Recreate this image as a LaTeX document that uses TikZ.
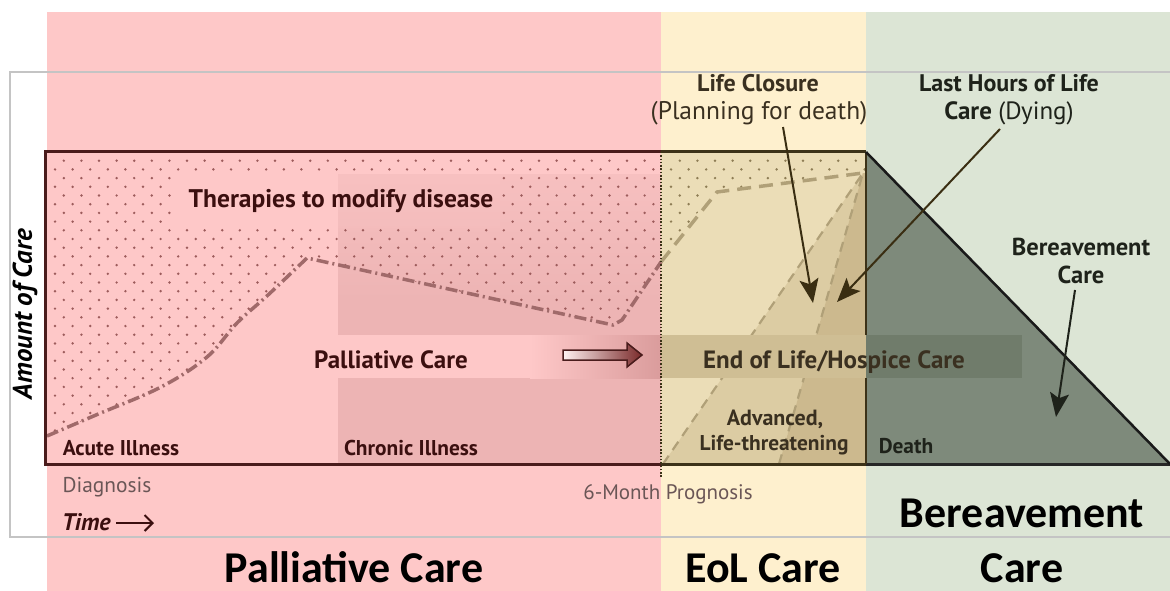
\documentclass[tikz,border=0pt]{standalone}
\usepackage{fontspec}
\setmainfont{PT Sans}
\newfontfamily\calib{Carlito}
\usetikzlibrary{arrows.meta}
\definecolor{pinkbg}{HTML}{FEC8C8}
\definecolor{pinkdark}{HTML}{EDB4B4}
\definecolor{pinkmid}{HTML}{F7C0C0}
\definecolor{pinkband}{HTML}{DA9C9C}
\definecolor{yellowbg}{HTML}{FEF0CE}
\definecolor{greenbg}{HTML}{DCE5D5}
\definecolor{framecol}{HTML}{C4C4C4}
\definecolor{eolA}{HTML}{EBDDB7}
\definecolor{eolB}{HTML}{DCCCA3}
\definecolor{eolC}{HTML}{CCB98E}
\definecolor{eolband}{HTML}{CFBE94}
\definecolor{triband}{HTML}{707C6B}
\definecolor{tri}{HTML}{7E8A7B}
\definecolor{maroon}{HTML}{4A1C1C}
\definecolor{brownline}{HTML}{3C3218}
\definecolor{pinkdot}{HTML}{9D5C5C}
\definecolor{eoldot}{HTML}{8E7D55}
\definecolor{pinkdash}{HTML}{A06A6A}
\definecolor{eoldash}{HTML}{B0A078}
\definecolor{txtmaroon}{HTML}{3B0F0F}
\definecolor{txtbrown}{HTML}{3A3020}
\definecolor{txtgray}{HTML}{6A5656}
\definecolor{txtdark}{HTML}{1E221A}
\definecolor{arrowbrown}{HTML}{3A2E12}
\definecolor{arrowfill}{HTML}{7A2A2A}
\newcommand\dotfield[4]{%
  \foreach \j in {0,...,#4}{%
    \foreach \i in {#2,...,#3}{%
      \fill[#1] ({55+17.6*\i+8.8*mod(\j+1,2)},{160.7+8.7*\j}) circle (1.35);
    }}}
\newcommand\fs[1]{\fontsize{#1}{#1}\selectfont}
\begin{document}
\begin{tikzpicture}[x=1pt,y=-1pt,
  lbl/.style={inner sep=0pt, anchor=base, font=\bfseries\fs{21.4}},
  big lbl/.style={inner sep=0pt, anchor=base, font=\bfseries\fs{25}},
  thin lbl/.style={inner sep=0pt, anchor=base, font=\fs{21.4}},
  big/.style={inner sep=0pt, anchor=base, text depth=0pt, font=\calib\bfseries\fs{44}, text=black},
  note arrow/.style={line width=2pt, -{Stealth[length=24pt,width=19pt,inset=5pt]}}]
\useasboundingbox (0,0) rectangle (1170,591);
\fill[white] (0,0) rectangle (1170,591);
% background bands
\fill[pinkbg] (47,12) rectangle (661,591);
\fill[yellowbg] (661,12) rectangle (866,591);
\fill[greenbg] (866,12) rectangle (1170,591);
\draw[framecol, line width=1.2pt] (1170,72) -- (10,72) -- (10,537) -- (1170,537);
% chronic region
\shade[top color=pinkmid, bottom color=pinkdark] (338,174) rectangle (661,300);
\fill[pinkdark] (338,299.5) rectangle (661,464);
\fill[pinkbg] (310,335) rectangle (530,378);
\shade[left color=pinkbg, right color=pinkband] (530,335) rectangle (661,378);
% EoL interior
\fill[eolA] (661,152) rectangle (866,464);
\fill[eolB] (663,464) -- (863,173) -- (779,464) -- cycle;
\fill[eolC] (779,464) -- (863,173) -- (866,173) -- (866,464) -- cycle;
% dots, palliative
\begin{scope}
  \clip (45,152) -- (659,152) -- (659,264) -- (622,320) -- (613,325) -- (307,258)
    -- plot[smooth, tension=0.6] coordinates {(307,258) (268,295) (237,323) (207,357) (161,387) (96,415) (47,436)} -- (45,437) -- cycle;
  \dotfield{pinkdot}{0}{35}{34}
\end{scope}
% text cut-out
\fill[pinkbg] (175,176) rectangle (338,227);
\shade[top color=pinkmid, bottom color=pinkmid!70!pinkdark] (338,176) rectangle (500,227);
% dots, EoL
\begin{scope}
  \clip (664,152) -- (866,152) -- (866,171) -- (863,171) -- (717,190) -- (664,252) -- cycle;
  \dotfield{eoldot}{34}{47}{14}
\end{scope}
% dashed trajectories
\draw[pinkdash, line width=3.5pt, dash pattern=on 12pt off 4pt on 2pt off 4pt]
  plot[smooth, tension=0.6] coordinates {(47,436) (96,415) (161,387) (207,357) (237,323) (268,295) (307,258)}
  -- (613,325) -- (622,320) -- (661,262);
\draw[eoldash, line width=3.5pt, dash pattern=on 14pt off 8pt] (661,262) -- (717,192) -- (863,173);
\draw[eoldash, line width=2.2pt, dash pattern=on 10pt off 7pt] (663,464) -- (863,173) -- (779,464);
% triangle (bereavement)
\fill[tri] (866,152) -- (1170,464) -- (866,464) -- cycle;
% box border
\draw[maroon, line width=3pt] (661,152) -- (45,152) -- (45,464) -- (661,464);
\draw[brownline, line width=3pt] (661,152) -- (866,152);
\draw[brownline, line width=3pt] (661,464) -- (866,464);
\draw[black!85, line width=3pt] (866,464) -- (1170,464);
\draw[brownline, line width=2.5pt] (866,152) -- (866,464);
\draw[black!90, line width=2.5pt] (866,152) -- (1170,464);
% EoL band
\fill[eolband] (661,335) rectangle (866,378);
\fill[triband] (866,335) rectangle (1022,378);
% dotted 6-month line
\draw[brownline, line width=2.5pt, dash pattern=on 1.5pt off 1.8pt] (661,152) -- (661,478);
% hollow arrow
\shadedraw[left color=white!75!pinkbg, right color=arrowfill, draw=maroon, line width=1.5pt]
  (563,350) -- (627,350) -- (627,343) -- (642,355) -- (627,367) -- (627,360) -- (563,360) -- cycle;
% labels inside
\node[lbl, text=txtmaroon, font=\bfseries\fs{25.5}] (ther) at (341,207) {Therapies to modify disease};
\node[big lbl, text=txtmaroon] (pal) at (391,368) {Palliative Care};
\node[lbl, text=txtmaroon] (acute) at (121,455) {Acute Illness};
\node[lbl, text=txtmaroon] (chronic) at (411,455) {Chronic Illness};
\node[thin lbl, text=txtgray] (diag) at (107,492) {Diagnosis};
\node[lbl, text=txtmaroon, anchor=base west, font=\bfseries\itshape\fs{24}] (time) at (62,530) {Time};
\coordinate (timeS) at (116,523);
\coordinate (timeE) at (154,523);
\draw[txtmaroon, line width=2pt, -{Straight Barb[length=8pt,width=16pt]}] (timeS) -- (timeE);
\node[thin lbl, text=txtgray, font=\fs{21}] (prog) at (668,499) {6-Month Prognosis};
\node[big lbl, text=txtbrown] (eol) at (834,368) {End of Life/Hospice Care};
\node[lbl, text=txtbrown, font=\bfseries\fs{22}] (adv) at (775,425) {Advanced,};
\node[lbl, text=txtbrown] (lt) at (774,450) {Life-threatening};
\node[lbl, text=txtdark] (death) at (906,453) {Death};
\node[big lbl, text=txtbrown, font=\bfseries\fs{24}] (lc) at (758,92) {Life Closure};
\node[thin lbl, text=txtbrown, font=\fs{25.5}] (plan) at (759,120) {(Planning for death)};
\node[big lbl, text=txtdark, font=\bfseries\fs{24}] (lh) at (1009,92) {Last Hours of Life};
\node[big lbl, text=txtdark] (dying) at (1009,120) {Care \mdseries(Dying)};
\node[big lbl, text=txtdark, font=\bfseries\fs{24.5}] (bc1) at (1081,255) {Bereavement};
\node[big lbl, text=txtdark, font=\bfseries\fs{24.5}] (bc2) at (1081,283) {Care};
\node[rotate=90, inner sep=0pt, text=black, font=\bfseries\itshape\fs{27}] (amount) at (25,314) {Amount of Care};
% annotation arrows
\coordinate (lcS) at (783,127);
\coordinate (lcT) at (813,303);
\coordinate (dyS) at (1000,129);
\coordinate (dyT) at (837,302);
\coordinate (bcS) at (1075,290);
\coordinate (bcT) at (1056,417);
\draw[note arrow, arrowbrown] (lcS) -- (lcT);
\draw[note arrow, arrowbrown] (dyS) -- (dyT);
\draw[note arrow, txtdark] (bcS) -- (bcT);
% big category labels
\node[big] (bigpal) at (354,582) {Palliative Care};
\node[big] (bigeol) at (763,582) {EoL Care};
\node[big] (bigber1) at (1022,527) {Bereavement};
\node[big] (bigber2) at (1022,582) {Care};
\end{tikzpicture}
\end{document}
